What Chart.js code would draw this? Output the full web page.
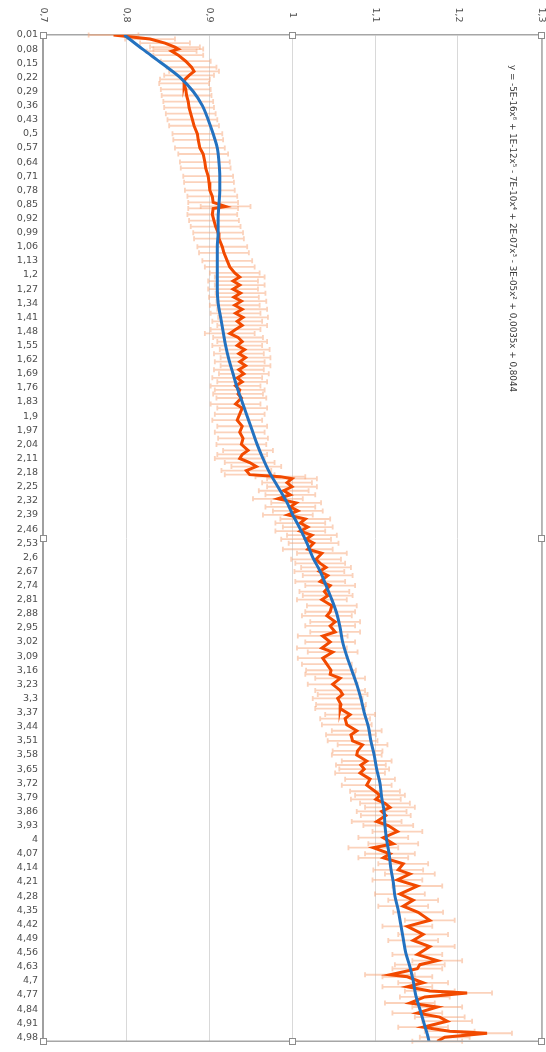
<!DOCTYPE html>
<html>
<head>
<meta charset="utf-8">
<script src="https://cdn.jsdelivr.net/npm/chart.js@4.4.1/dist/chart.umd.min.js"></script>
<style>
html,body{margin:0;padding:0;background:#fff;}
#wrap{position:relative;width:546px;height:1052px;}
</style>
</head>
<body>
<div id="wrap"><canvas id="c" width="546" height="1052"></canvas></div>
<script>
// ---- category tick labels (left axis) ----
const categoryTicks = [0.01,0.08,0.15,0.22,0.29,0.36,0.43,0.5,0.57,0.64,0.71,0.78,0.85,0.92,0.99,1.06,1.13,1.2,1.27,1.34,1.41,1.48,1.55,1.62,1.69,1.76,1.83,1.9,1.97,2.04,2.11,2.18,2.25,2.32,2.39,2.46,2.53,2.6,2.67,2.74,2.81,2.88,2.95,3.02,3.09,3.16,3.23,3.3,3.37,3.44,3.51,3.58,3.65,3.72,3.79,3.86,3.93,4,4.07,4.14,4.21,4.28,4.35,4.42,4.49,4.56,4.63,4.7,4.77,4.84,4.91,4.98];
// ---- value axis tick labels (top axis) ----
const valueTicks = [0.7,0.8,0.9,1.0,1.1,1.2,1.3];
const categoryMin = 0.01;
const categoryMax = 5.00;

// ---- measured series (orange) ----
const measuredCats = [0.01,0.03,0.05,0.07,0.08,0.09,0.11,0.14,0.17,0.19,0.21,0.23,0.25,0.28,0.31,0.34,0.37,0.40,0.43,0.46,0.50,0.53,0.57,0.60,0.64,0.67,0.71,0.74,0.78,0.81,0.84,0.86,0.87,0.90,0.93,0.96,0.99,1.02,1.06,1.09,1.13,1.16,1.19,1.21,1.23,1.25,1.27,1.29,1.31,1.33,1.35,1.37,1.39,1.41,1.43,1.45,1.47,1.49,1.51,1.53,1.55,1.57,1.59,1.61,1.63,1.65,1.67,1.69,1.71,1.73,1.75,1.77,1.79,1.81,1.84,1.86,1.89,1.92,1.95,1.98,2.01,2.04,2.07,2.09,2.11,2.13,2.15,2.17,2.19,2.20,2.21,2.23,2.25,2.27,2.29,2.31,2.33,2.35,2.37,2.39,2.41,2.43,2.45,2.47,2.49,2.51,2.53,2.56,2.58,2.61,2.63,2.65,2.67,2.69,2.72,2.74,2.77,2.79,2.81,2.84,2.87,2.89,2.92,2.94,2.97,2.99,3.02,3.05,3.07,3.10,3.13,3.16,3.18,3.20,3.23,3.26,3.28,3.30,3.33,3.35,3.38,3.40,3.43,3.46,3.48,3.51,3.53,3.56,3.58,3.61,3.63,3.65,3.67,3.70,3.73,3.76,3.78,3.80,3.82,3.84,3.86,3.88,3.91,3.93,3.96,3.99,4.02,4.04,4.07,4.09,4.12,4.15,4.17,4.20,4.23,4.27,4.30,4.33,4.36,4.40,4.43,4.47,4.50,4.53,4.57,4.60,4.62,4.64,4.67,4.68,4.71,4.73,4.75,4.76,4.78,4.81,4.83,4.86,4.88,4.90,4.93,4.95,4.96,4.98,5.00];
const measuredValues = [0.785,0.829,0.847,0.859,0.863,0.855,0.863,0.872,0.879,0.882,0.876,0.871,0.870,0.872,0.873,0.875,0.876,0.878,0.880,0.882,0.886,0.887,0.889,0.893,0.895,0.896,0.899,0.900,0.901,0.904,0.905,0.920,0.905,0.904,0.906,0.908,0.911,0.912,0.916,0.918,0.922,0.925,0.931,0.937,0.929,0.937,0.929,0.938,0.930,0.939,0.931,0.940,0.932,0.941,0.934,0.940,0.932,0.925,0.935,0.940,0.934,0.943,0.936,0.944,0.937,0.944,0.936,0.942,0.934,0.940,0.932,0.937,0.935,0.939,0.932,0.940,0.937,0.934,0.940,0.937,0.941,0.939,0.947,0.940,0.937,0.949,0.957,0.945,0.949,0.986,1.000,0.994,1.000,0.990,0.998,0.983,1.005,0.998,1.007,0.995,1.016,1.010,1.019,1.010,1.024,1.017,1.026,1.019,1.036,1.029,1.034,1.041,1.033,1.043,1.034,1.046,1.039,1.043,1.036,1.048,1.046,1.042,1.052,1.046,1.052,1.037,1.046,1.036,1.049,1.037,1.042,1.047,1.046,1.058,1.049,1.058,1.061,1.055,1.059,1.058,1.070,1.064,1.066,1.078,1.071,1.073,1.085,1.079,1.078,1.090,1.083,1.087,1.082,1.094,1.090,1.100,1.106,1.101,1.112,1.118,1.108,1.113,1.102,1.116,1.127,1.110,1.122,1.098,1.118,1.110,1.134,1.128,1.142,1.127,1.151,1.130,1.146,1.134,1.152,1.166,1.139,1.158,1.146,1.166,1.151,1.175,1.154,1.151,1.118,1.139,1.158,1.139,1.166,1.211,1.160,1.142,1.175,1.151,1.178,1.187,1.158,1.190,1.235,1.184,1.175];
const errorMargin = 0.03;

// ---- polynomial trendline (blue) ----
const trendCats = [0.01,0.08,0.15,0.22,0.29,0.36,0.43,0.5,0.57,0.64,0.71,0.78,0.85,0.92,0.99,1.06,1.13,1.2,1.27,1.34,1.41,1.48,1.55,1.62,1.69,1.76,1.83,1.9,1.97,2.04,2.11,2.18,2.25,2.32,2.39,2.46,2.53,2.6,2.67,2.74,2.81,2.88,2.95,3.02,3.09,3.16,3.23,3.3,3.37,3.44,3.51,3.58,3.65,3.72,3.79,3.86,3.93,4,4.07,4.14,4.21,4.28,4.35,4.42,4.49,4.56,4.63,4.7,4.77,4.84,4.91,4.98,5.00];
const trendValues = [0.798,0.820,0.843,0.865,0.881,0.892,0.899,0.905,0.910,0.912,0.913,0.913,0.912,0.911,0.911,0.910,0.910,0.910,0.910,0.911,0.914,0.917,0.920,0.924,0.929,0.934,0.940,0.946,0.952,0.958,0.965,0.973,0.983,0.993,1.001,1.010,1.018,1.025,1.034,1.041,1.048,1.054,1.058,1.061,1.066,1.072,1.078,1.083,1.087,1.092,1.095,1.099,1.102,1.106,1.108,1.111,1.112,1.114,1.117,1.119,1.122,1.124,1.128,1.131,1.134,1.137,1.142,1.146,1.149,1.154,1.159,1.164,1.165];

const equationText = "y = -5E-16x\u2076 + 1E-12x\u2075 - 7E-10x\u2074 + 2E-07x\u00B3 - 3E-05x\u00B2 + 0,0035x + 0,8044";

const fmt = v => String(v).replace('.', ',');

const measuredData = measuredCats.map((c, i) => ({ x: measuredValues[i], y: c }));
const trendData = trendCats.map((c, i) => ({ x: trendValues[i], y: c }));

const overlay = {
  id: 'overlay',
  beforeDatasetsDraw(chart) {
    const ctx = chart.ctx;
    const xs = chart.scales.x, ys = chart.scales.y;
    ctx.save();
    ctx.strokeStyle = 'rgba(248,165,120,0.5)';
    ctx.lineWidth = 1.8;
    measuredCats.forEach((c, i) => {
      const y = ys.getPixelForValue(c);
      const x1 = xs.getPixelForValue(measuredValues[i] - errorMargin);
      const x2 = xs.getPixelForValue(measuredValues[i] + errorMargin);
      ctx.beginPath();
      ctx.moveTo(x1, y); ctx.lineTo(x2, y);
      ctx.moveTo(x1, y - 2.5); ctx.lineTo(x1, y + 2.5);
      ctx.moveTo(x2, y - 2.5); ctx.lineTo(x2, y + 2.5);
      ctx.stroke();
    });
    ctx.restore();
  },
  afterDraw(chart) {
    const ctx = chart.ctx;
    const xs = chart.scales.x;
    const a = chart.chartArea;
    ctx.save();
    // right & bottom frame
    ctx.strokeStyle = '#a6a6a6';
    ctx.lineWidth = 1.5;
    ctx.beginPath();
    ctx.moveTo(a.right + 1, a.top); ctx.lineTo(a.right + 1, a.bottom);
    ctx.moveTo(a.left, a.bottom); ctx.lineTo(a.right + 1, a.bottom);
    ctx.stroke();
    // value labels (rotated clockwise)
    ctx.fillStyle = '#4d4d4d';
    ctx.font = '9.5px "DejaVu Sans"';
    ctx.textAlign = 'center';
    ctx.textBaseline = 'middle';
    valueTicks.forEach(v => {
      const x = xs.getPixelForValue(v);
      ctx.save();
      ctx.translate(x, 15);
      ctx.rotate(Math.PI / 2);
      ctx.fillText(fmt(v), 0, 0);
      ctx.restore();
    });
    // equation label
    ctx.save();
    ctx.fillStyle = '#3a3a3a';
    ctx.font = '10px "DejaVu Sans"';
    const w10 = ctx.measureText(equationText).width;
    const size = 10 * 327 / w10;
    ctx.font = size.toFixed(2) + 'px "DejaVu Sans"';
    ctx.textAlign = 'left';
    ctx.translate(512, 65);
    ctx.rotate(Math.PI / 2);
    ctx.fillText(equationText, 0, 0);
    ctx.restore();
    // selection handles
    const hx = [a.left, (a.left + a.right) / 2, a.right];
    const hy = [a.top, (a.top + a.bottom) / 2, a.bottom];
    ctx.fillStyle = '#ffffff';
    ctx.strokeStyle = '#8c8c8c';
    ctx.lineWidth = 1;
    hx.forEach((x, i) => hy.forEach((y, j) => {
      if (i === 1 && j === 1) return;
      ctx.fillRect(x - 3, y - 3, 6, 6);
      ctx.strokeRect(Math.round(x - 3) + 0.5, Math.round(y - 3) + 0.5, 6, 6);
    }));
    ctx.restore();
  }
};

new Chart(document.getElementById('c'), {
  type: 'line',
  data: {
    datasets: [
      {
        label: 'Trendline',
        data: trendData,
        borderColor: '#2472c0',
        borderWidth: 3,
        pointRadius: 0,
        cubicInterpolationMode: 'monotone',
        fill: false,
        order: 0
      },
      {
        label: 'Measured',
        data: measuredData,
        borderColor: '#f24a00',
        borderWidth: 3,
        pointRadius: 0,
        tension: 0,
        fill: false,
        order: 1
      }
    ]
  },
  options: {
    indexAxis: 'y',
    responsive: false,
    animation: false,
    events: [],
    layout: { padding: { left: 0, right: 5, top: 0, bottom: 4 } },
    plugins: { legend: { display: false }, tooltip: { enabled: false } },
    scales: {
      x: {
        type: 'linear',
        position: 'top',
        min: 0.7,
        max: 1.3,
        afterBuildTicks: s => { s.ticks = valueTicks.map(v => ({ value: v })); },
        afterFit: s => { s.height = 35; },
        ticks: { display: false },
        grid: { color: '#d9d9d9', lineWidth: 1, drawTicks: false },
        border: { color: '#a6a6a6', width: 1.5 }
      },
      y: {
        type: 'linear',
        reverse: true,
        min: categoryMin,
        max: categoryMax,
        afterBuildTicks: s => { s.ticks = categoryTicks.map(v => ({ value: v })); },
        afterFit: s => { s.width = 43; },
        ticks: {
          autoSkip: false,
          padding: 5,
          color: '#4d4d4d',
          font: { family: '"DejaVu Sans"', size: 9.5 },
          callback: v => fmt(v)
        },
        grid: { display: false, drawTicks: false },
        border: { color: '#a0a0a0', width: 2 }
      }
    }
  },
  plugins: [overlay]
});
</script>
</body>
</html>
